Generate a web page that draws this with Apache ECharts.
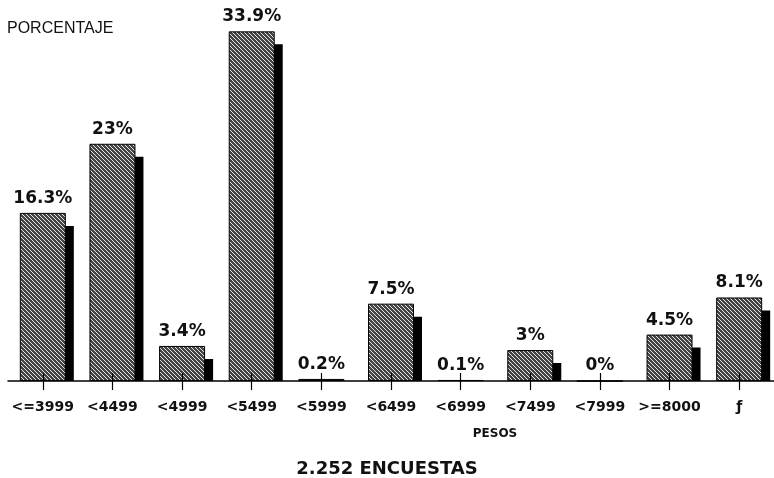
<!DOCTYPE html>
<html>
<head>
<meta charset="utf-8">
<script src="https://cdn.jsdelivr.net/npm/echarts@6/dist/echarts.min.js"></script>
<style>
html,body{margin:0;padding:0;background:#fff;}
#chart{width:774px;height:478px;}
</style>
</head>
<body>
<div id="chart"></div>
<script>
// Data
const categories = ['<=3999', '<4499', '<4999', '<5499', '<5999', '<6499', '<6999', '<7499', '<7999', '>=8000', 'ƒ'];
const percentages = [16.3, 23, 3.4, 33.9, 0.2, 7.5, 0.1, 3, 0, 4.5, 8.1];
const yAxisTitle = 'PORCENTAJE';
const xAxisTitle = 'PESOS';
const chartTitle = '2.252 ENCUESTAS';

// Hatched fill pattern
function makePattern() {
  const c = document.createElement('canvas');
  c.width = 4; c.height = 4;
  const ctx = c.getContext('2d');
  ctx.fillStyle = '#444';
  ctx.fillRect(0, 0, 4, 4);
  ctx.strokeStyle = '#e6e6e6';
  ctx.lineWidth = 1;
  ctx.beginPath();
  ctx.moveTo(-1, -1); ctx.lineTo(5, 5);
  ctx.moveTo(-1, 3); ctx.lineTo(1, 5);
  ctx.moveTo(3, -1); ctx.lineTo(5, 1);
  ctx.stroke();
  return c;
}

const BAR_W = 46;
const chart = echarts.init(document.getElementById('chart'), null, {renderer: 'canvas'});

const option = {
  animation: false,
  backgroundColor: '#fff',
  title: {
    text: chartTitle,
    left: 'center',
    top: 455,
    textStyle: {fontFamily: 'DejaVu Sans', fontWeight: 'bold', fontSize: 18, color: '#111'}
  },
  grid: {left: 8, right: -3, top: 20, bottom: 97, containLabel: false},
  xAxis: [{
    type: 'category',
    data: categories,
    position: 'bottom',
    z: 3,
    axisLine: {show: true, lineStyle: {color: '#000', width: 1.5}},
    axisTick: {show: true, alignWithLabel: true, inside: false, length: 9, lineStyle: {color: '#000', width: 1.2}},
    axisLabel: {
      margin: 19,
      color: '#111',
      fontFamily: 'DejaVu Sans',
      fontWeight: 'bold',
      fontSize: 14,
      interval: 0
    },
    splitLine: {show: false}
  }, {
    type: 'category',
    data: categories,
    position: 'bottom',
    z: 4,
    axisLine: {show: false},
    axisTick: {show: true, alignWithLabel: true, inside: true, length: 8, lineStyle: {color: '#000', width: 1.2}},
    axisLabel: {show: false},
    splitLine: {show: false}
  }],
  yAxis: {
    type: 'value',
    min: 0,
    max: 35,
    show: false,
    splitLine: {show: false}
  },
  graphic: [{
    type: 'text',
    x: 7, y: 29,
    style: {
      text: yAxisTitle,
      font: '16px "Liberation Sans"',
      fill: '#111',
      textAlign: 'left',
      textVerticalAlign: 'middle'
    }
  }, {
    type: 'text',
    x: 495, y: 434,
    style: {
      text: xAxisTitle,
      font: 'bold 12px "DejaVu Sans"',
      fill: '#111',
      textAlign: 'center',
      textVerticalAlign: 'middle'
    }
  }],
  series: [{
    type: 'custom',
    z: 1,
    data: percentages.map((v, i) => [i, v]),
    renderItem: function (params, api) {
      const i = api.value(0);
      const v = api.value(1);
      const top = api.coord([i, v]);
      const base = api.coord([i, 0]);
      const y = top[1] + 13;
      if (y >= base[1]) return null;
      return {
        type: 'rect',
        shape: {x: top[0] - BAR_W / 2 + 8, y: y, width: BAR_W, height: base[1] - y},
        style: {fill: '#000'}
      };
    }
  }, {
    type: 'bar',
    z: 2,
    data: percentages,
    barWidth: BAR_W,
    itemStyle: {
      color: {image: makePattern(), repeat: 'repeat'},
      borderColor: '#000',
      borderWidth: 1
    },
    label: {
      show: true,
      position: 'top',
      distance: 6,
      formatter: '{c}%',
      fontFamily: 'DejaVu Sans',
      fontWeight: 'bold',
      fontSize: 17,
      color: '#111'
    }
  }]
};
chart.setOption(option);
</script>
</body>
</html>
